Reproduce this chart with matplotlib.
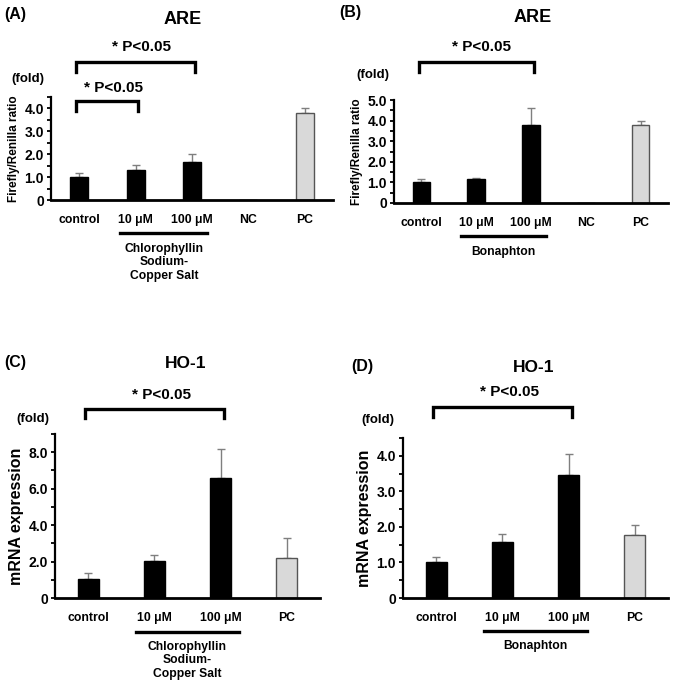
import matplotlib
matplotlib.use("Agg")
import matplotlib.pyplot as plt
from matplotlib.transforms import blended_transform_factory
from matplotlib.ticker import MultipleLocator

plt.rcParams["font.family"] = ["Liberation Sans", "DejaVu Sans"]
plt.rcParams["font.weight"] = "bold"

# %%
# data
cats_ab = ["control", "10 μM", "100 μM", "NC", "PC"]
cats_cd = ["control", "10 μM", "100 μM", "PC"]

are_cscs = [1.0, 1.32, 1.67, 0.0, 3.8]
are_cscs_err = [0.17, 0.22, 0.35, 0.0, 0.2]

are_bona = [1.0, 1.15, 3.78, 0.0, 3.8]
are_bona_err = [0.17, 0.05, 0.85, 0.0, 0.2]

ho1_cscs = [1.05, 2.05, 6.6, 2.2]
ho1_cscs_err = [0.3, 0.3, 1.6, 1.1]

ho1_bona = [1.02, 1.58, 3.47, 1.78]
ho1_bona_err = [0.12, 0.22, 0.58, 0.28]

W, H = 675, 685
fig = plt.figure(figsize=(W / 100, H / 100), dpi=100)


def fy(y):
    return 1 - y / H


def add_panel(box, cats, vals, errs, ymax, major, minor, ylabel, ylab_size):
    left, top, right, bottom = box
    ax = fig.add_axes([left / W, fy(bottom), (right - left) / W, (bottom - top) / H])
    x = list(range(len(cats)))
    colors = ["#d9d9d9" if c == "PC" else "black" for c in cats]
    edges = ["#555555" if c == "PC" else "black" for c in cats]
    ax.bar(x, vals, width=0.32, color=colors, edgecolor=edges, linewidth=1, zorder=2)
    shown = [i for i, v in enumerate(vals) if v > 0]
    ax.errorbar([x[i] for i in shown], [vals[i] for i in shown],
                yerr=[[0] * len(shown), [errs[i] for i in shown]],
                fmt="none", ecolor="#7f7f7f", elinewidth=1, capsize=3, capthick=1, zorder=1)
    ax.set_xlim(-0.5, len(cats) - 0.5)
    ax.set_ylim(0, ymax)
    ax.yaxis.set_major_locator(MultipleLocator(major))
    ax.yaxis.set_minor_locator(MultipleLocator(minor))
    ax.yaxis.set_major_formatter(lambda v, p: "0" if v == 0 else f"{v:.1f}")
    ax.tick_params(axis="y", which="both", direction="out", length=3, width=1.3,
                   labelsize=10, pad=2)
    ax.tick_params(axis="x", length=0, labelsize=8.8, pad=10)
    ax.set_xticks(x)
    ax.set_xticklabels(cats, fontweight="bold")
    for lab in ax.get_yticklabels():
        lab.set_fontweight("bold")
    for s in ["top", "right"]:
        ax.spines[s].set_visible(False)
    ax.spines["left"].set_linewidth(1.6)
    ax.spines["bottom"].set_linewidth(2.0)
    ax.set_ylabel(ylabel, fontsize=ylab_size, fontweight="bold", labelpad=3)
    return ax


def bracket(ax, i, j, y_top, y_bot, text, text_y):
    tr = blended_transform_factory(ax.transData, fig.transFigure)
    xs = [i - 0.05, i - 0.05, j + 0.05, j + 0.05]
    ys = [fy(y_bot), fy(y_top), fy(y_top), fy(y_bot)]
    ax.plot(xs, ys, color="black", lw=2.4, transform=tr, clip_on=False,
            solid_joinstyle="miter")
    ax.text((i + j) / 2 + 0.1, fy(text_y), text, transform=tr, ha="center", va="center",
            fontsize=11, fontweight="bold")


def group(ax, i, j, line_y, text, text_y):
    tr = blended_transform_factory(ax.transData, fig.transFigure)
    ax.plot([i - 0.27, j + 0.27], [fy(line_y), fy(line_y)], color="black", lw=2.4,
            transform=tr, clip_on=False)
    ax.text((i + j) / 2, fy(text_y), text, transform=tr, ha="center", va="top",
            fontsize=8.7, fontweight="bold", linespacing=1.15)


# %%
# (A)
axA = add_panel((51, 97, 333, 200), cats_ab, are_cscs, are_cscs_err, 4.5, 1.0, 0.5,
                "Firefly/Renilla ratio", 8.5)
fig.text(4 / W, fy(15), "(A)", fontsize=11.5, fontweight="bold", va="center")
fig.text(183 / W, fy(20), "ARE", fontsize=13, fontweight="bold", ha="center", va="center")
fig.text(28 / W, fy(79), "(fold)", fontsize=9.5, fontweight="bold", ha="center", va="center")
bracket(axA, 0, 2, 62, 72, "* P<0.05", 47)
bracket(axA, 0, 1, 101, 111, "* P<0.05", 88)
group(axA, 1, 2, 233, "Chlorophyllin\nSodium-\nCopper Salt", 243)

# (B)
axB = add_panel((394, 100, 668, 203), cats_ab, are_bona, are_bona_err, 5.0, 1.0, 0.5,
                "Firefly/Renilla ratio", 8.5)
fig.text(339 / W, fy(13), "(B)", fontsize=11.5, fontweight="bold", va="center")
fig.text(533 / W, fy(18), "ARE", fontsize=13, fontweight="bold", ha="center", va="center")
fig.text(373 / W, fy(75), "(fold)", fontsize=9.5, fontweight="bold", ha="center", va="center")
bracket(axB, 0, 2, 62, 72, "* P<0.05", 47)
group(axB, 1, 2, 236, "Bonaphton", 246)

# (C)
axC = add_panel((55, 434, 320, 598), cats_cd, ho1_cscs, ho1_cscs_err, 9.0, 2.0, 1.0,
                "mRNA expression", 11.5)
fig.text(4 / W, fy(363), "(C)", fontsize=11.5, fontweight="bold", va="center")
fig.text(186 / W, fy(363), "HO-1", fontsize=12.5, fontweight="bold", ha="center", va="center")
fig.text(33 / W, fy(419), "(fold)", fontsize=9.5, fontweight="bold", ha="center", va="center")
bracket(axC, 0, 2, 409, 418, "* P<0.05", 395)
group(axC, 1, 2, 632, "Chlorophyllin\nSodium-\nCopper Salt", 641)

# (D)
axD = add_panel((403, 438, 668, 598), cats_cd, ho1_bona, ho1_bona_err, 4.5, 1.0, 0.5,
                "mRNA expression", 11.5)
fig.text(351 / W, fy(367), "(D)", fontsize=11.5, fontweight="bold", va="center")
fig.text(534 / W, fy(367), "HO-1", fontsize=12.5, fontweight="bold", ha="center", va="center")
fig.text(378 / W, fy(420), "(fold)", fontsize=9.5, fontweight="bold", ha="center", va="center")
bracket(axD, 0, 2, 407, 417, "* P<0.05", 392)
group(axD, 1, 2, 631, "Bonaphton", 640)

fig.savefig("out.png", dpi=100)
